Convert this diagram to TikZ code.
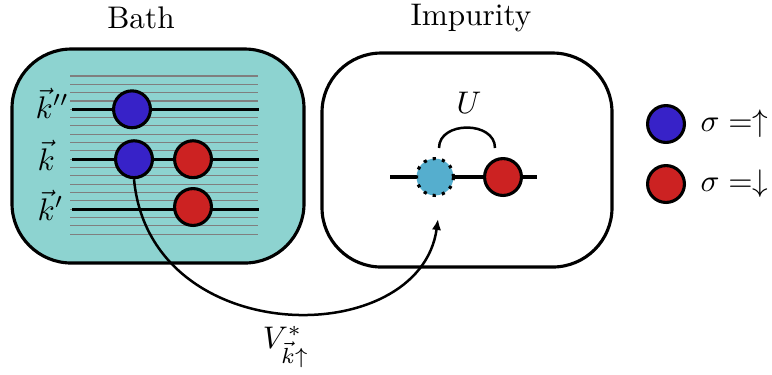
\documentclass[tikz,border=0pt]{standalone}
\usetikzlibrary{arrows.meta}
\definecolor{bathfill}{HTML}{8DD3D0}
\definecolor{upblue}{HTML}{3722C8}
\definecolor{downred}{HTML}{CC2222}
\definecolor{impblue}{HTML}{55AECE}
\definecolor{levelgray}{HTML}{7F7F7F}
\begin{document}
\begin{tikzpicture}[x=0.32pt,y=-0.32pt,
  box/.style={draw,line width=1pt,rounded corners=19pt},
  spin/.style={circle,draw,line width=1pt,minimum size=11.8pt,inner sep=0pt},
  upspin/.style={spin,fill=upblue},
  downspin/.style={spin,fill=downred},
  impspin/.style={circle,draw,dotted,line width=1pt,fill=impblue,minimum size=11.8pt,inner sep=0pt},
  level/.style={line width=1pt},
  sublevel/.style={levelgray,line width=0.35pt},
  lbl/.style={inner sep=0pt}]
\useasboundingbox (0,0) rectangle (772,374);
% boxes
\draw[box,fill=bathfill] (12,49) rectangle (304,263);
\draw[box] (322,53) rectangle (612,267);
\node[lbl] (bathlbl) at (141,18) {Bath};
\node[lbl] (implbl) at (471,18) {Impurity};
% sublevels
\foreach \i in {0,...,19}{
  \draw[sublevel] (70,{76+\i*8.32}) -- (258,{76+\i*8.32});
}
% main levels
\coordinate (l1a) at (72,109.3); \coordinate (l1b) at (259,109.3);
\coordinate (l2a) at (72,159.2); \coordinate (l2b) at (259,159.2);
\coordinate (l3a) at (72,209.1); \coordinate (l3b) at (259,209.1);
\draw[level] (l1a) -- (l1b);
\draw[level] (l2a) -- (l2b);
\draw[level] (l3a) -- (l3b);
\node[lbl,anchor=west] (kpp) at (35,103) {$\vec{k}''$};
\node[lbl,anchor=west] (k) at (37,155) {$\vec{k}$};
\node[lbl,anchor=west] (kp) at (37,205) {$\vec{k}'$};
\node[upspin] (b1) at (132,109.3) {};
\node[upspin] (b2) at (134,159.2) {};
\node[downspin] (r2) at (193,159.2) {};
\node[downspin] (r3) at (193,207) {};
% impurity
\coordinate (ia) at (390,177); \coordinate (ib) at (537,177);
\draw[level] (ia) -- (ib);
\node[impspin] (iu) at (435,177) {};
\node[downspin] (id) at (503,177) {};
\coordinate (ua) at (439,148); \coordinate (ub) at (495,148);
\draw[line width=0.8pt] (ua) to[out=90,in=90,looseness=1.25] (ub);
\node[lbl] (Ulbl) at (469,103) {$U$};
% hopping arrow
\coordinate (tip) at (438,219);
\draw[line width=0.8pt,-{Latex[length=3.5pt,width=3pt]}] (b2.south) .. controls (150,351) and (420,351) .. (tip);
\node[lbl] (V) at (286,347) {$V^*_{\vec{k}\uparrow}$};
% legend
\node[upspin] (legup) at (666,124) {};
\node[downspin] (legdn) at (666,184) {};
\node[lbl,anchor=west] (legupl) at (700,124) {$\sigma =\uparrow$};
\node[lbl,anchor=west] (legdnl) at (700,184) {$\sigma =\downarrow$};
\end{tikzpicture}
\end{document}
